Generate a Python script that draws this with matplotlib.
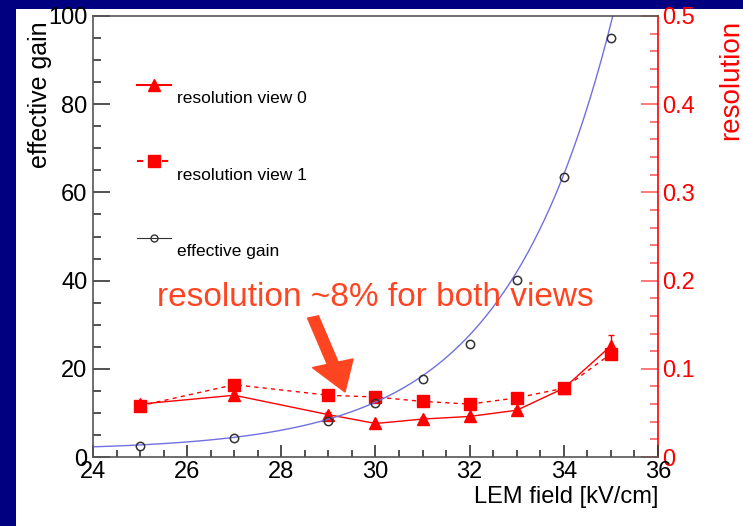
import numpy as np
import matplotlib
matplotlib.use("Agg")
import matplotlib.pyplot as plt
from matplotlib.lines import Line2D
from matplotlib.patches import Rectangle, FancyArrow
from matplotlib.ticker import MultipleLocator

plt.rcParams['font.family'] = ['Liberation Sans', 'DejaVu Sans']
TICKFONT = ['Liberation Sans Narrow', 'Liberation Sans', 'DejaVu Sans']

###Data###
field = [25, 27, 29, 30, 31, 32, 33, 34, 35]
gain = [2.4, 4.2, 8.2, 12.3, 17.8, 25.7, 40.1, 63.6, 95.0]
res_view0 = [0.060, 0.070, 0.048, 0.038, 0.043, 0.046, 0.053, 0.078, 0.126]
res_view0_err = [0.004, 0.003, 0.003, 0.002, 0.002, 0.002, 0.002, 0.003, 0.012]
res_view1 = [0.058, 0.082, 0.070, 0.068, 0.063, 0.060, 0.067, 0.078, 0.117]
res_view1_err = [0.004, 0.003, 0.003, 0.002, 0.002, 0.002, 0.002, 0.003, 0.005]

# exponential fit of the gain: offset + amp*exp(slope*(x-24))
fit_offset = 1.5
fit_amp = 0.8
fit_slope = 0.436

RED = '#ff0000'
ORANGE = '#ff4422'
NAVY = '#000080'

###Figure###
fig = plt.figure(figsize=(7.43, 5.26), dpi=100, facecolor=NAVY)
fig.patches.append(Rectangle((16/743, 0), 1 - 16/743, 1 - 9/526,
                             transform=fig.transFigure, facecolor='white',
                             edgecolor='none', zorder=-1))

ax = fig.add_axes([93/743, 1 - 457/526, 565/743, 441/526])
ax2 = ax.twinx()

# gain fit curve and points
xf = np.linspace(24, 36, 400)
yf = fit_offset + fit_amp*np.exp(fit_slope*(xf - 24))
ax.plot(xf, yf, color='#7070e0', lw=1.0, zorder=2)
ax.plot(field, gain, ls='none', marker='o', ms=6, mfc='none', mec='#333333',
        mew=1.1, zorder=3)

# resolution
ax2.errorbar(field, res_view1, yerr=res_view1_err, color=RED, ls=(0, (3, 3)),
             lw=1.0, marker='s', ms=9, capsize=2, elinewidth=1.0, zorder=4)
ax2.errorbar(field, res_view0, yerr=res_view0_err, color=RED, ls='-',
             lw=1.0, marker='^', ms=9, capsize=2, elinewidth=1.0, zorder=4)

ax.set_xlim(24, 36)
ax.set_ylim(0, 100)
ax2.set_ylim(0, 0.5)
ax.set_zorder(ax2.get_zorder() + 1)
ax.patch.set_visible(False)
ax2.patch.set_facecolor('white')

# ticks (ROOT style, inward)
ax.xaxis.set_major_locator(MultipleLocator(2))
ax.xaxis.set_minor_locator(MultipleLocator(0.5))
ax.yaxis.set_major_locator(MultipleLocator(20))
ax.yaxis.set_minor_locator(MultipleLocator(5))
ax2.yaxis.set_major_locator(MultipleLocator(0.1))
ax2.yaxis.set_minor_locator(MultipleLocator(0.02))
ax.tick_params(axis='x', which='major', direction='in', length=9, width=1.2,
               color='#333333', labelsize=17, pad=3, top=False)
ax.tick_params(axis='x', which='minor', direction='in', length=5, width=1.2,
               color='#333333', top=False)
ax.tick_params(axis='y', which='major', direction='in', length=12, width=1.2,
               color='#333333', labelsize=17, pad=4, right=False)
ax.tick_params(axis='y', which='minor', direction='in', length=6, width=1.2,
               color='#333333', right=False)
ax2.tick_params(axis='y', which='major', direction='in', length=12, width=1.2,
                color='#ff6060', labelcolor=RED, labelsize=17, pad=3)
ax2.tick_params(axis='y', which='minor', direction='in', length=6, width=1.2,
                color='#ff6060')
ax2.yaxis.set_major_formatter(plt.FuncFormatter(lambda v, p: '0' if v == 0 else '%g' % v))
for lab in ax.get_xticklabels() + ax.get_yticklabels() + ax2.get_yticklabels():
    lab.set_family(TICKFONT)

for s in ['left', 'bottom', 'top']:
    ax.spines[s].set_color('#555555')
    ax.spines[s].set_linewidth(1.2)
ax.spines['right'].set_visible(False)
ax2.spines['right'].set_color(RED)
ax2.spines['right'].set_linewidth(1.2)
for s in ['left', 'bottom', 'top']:
    ax2.spines[s].set_visible(False)

fig.text(40/743, 1 - 95/526, 'effective gain', rotation=90, fontsize=18,
         ha='center', va='center', color='black')
fig.text(731/743, 1 - 80/526, 'resolution', rotation=90, fontsize=20,
         ha='center', va='center', color=RED)
fig.text(658/743, 1 - 497/526, 'LEM field [kV/cm]', fontsize=17,
         ha='right', va='center', color='black')

# legend (no frame, ROOT style)
handles = [Line2D([], [], color=RED, ls='-', marker='^', ms=8),
           Line2D([], [], color=RED, ls=(0, (3, 3)), marker='s', ms=8),
           Line2D([], [], color='#333333', ls='-', lw=0.8, marker='o', ms=5,
                  mfc='none')]
labels = ['resolution view 0', 'resolution view 1', 'effective gain']
leg = ax.legend(handles, labels, loc='upper left',
                bbox_to_anchor=(121/743, 1 - 63/526), bbox_transform=fig.transFigure,
                frameon=False, fontsize=12.5, labelspacing=3.55, handlelength=1.96,
                handletextpad=0.35)
for t in leg.get_texts():
    t.set_va('top')

# annotation
fig.text(375/743, 1 - 298/526, 'resolution ~8% for both views', fontsize=24,
         ha='center', va='center', color=ORANGE)
fig.patches.append(FancyArrow(313/743, 1 - 317/526, 32/743, -75/526,
                              width=8/526, head_width=30/526, head_length=30/526,
                              length_includes_head=True, transform=fig.transFigure,
                              color=ORANGE, zorder=10))

fig.savefig('out.png', dpi=100, facecolor=NAVY)
